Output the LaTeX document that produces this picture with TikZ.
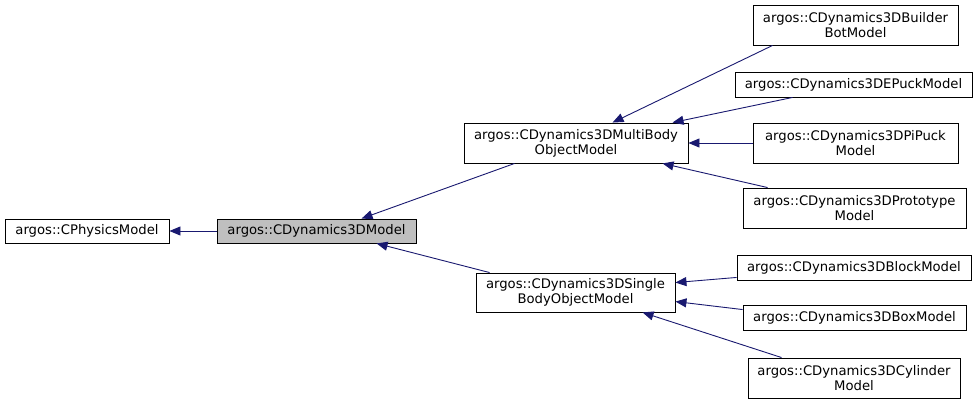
\documentclass[tikz,border=0pt]{standalone}
\usepackage{fontspec}
\setmainfont{DejaVu Sans}
\usetikzlibrary{arrows.meta,calc}
\definecolor{midnight}{HTML}{191970}
\definecolor{hlfill}{HTML}{BFBFBF}
\begin{document}
\begin{tikzpicture}[x=1pt,y=-1pt,
  cls/.style={draw=black,line width=0.9pt,fill=white,inner sep=0pt,align=center,
    font=\fontsize{13.2}{15}\selectfont},
  hlcls/.style={cls,fill=hlfill},
  inh/.style={draw=midnight,line width=0.9pt,
    -{Triangle[length=11pt,width=9pt,fill=midnight]}}]
\useasboundingbox (0,0) rectangle (979,403);
\fill[white] (0,0) rectangle (979,403);
\node[cls,minimum width=164pt,minimum height=24pt] (phys) at (87,231) {argos::CPhysicsModel};
\node[hlcls,minimum width=199pt,minimum height=24pt] (dyn) at (316.5,231) {argos::CDynamics3DModel};
\node[cls,minimum width=224pt,minimum height=40pt] (multi) at (576,143) {argos::CDynamics3DMultiBody\\ObjectModel};
\node[cls,minimum width=199pt,minimum height=39pt] (single) at (575.5,292.5) {argos::CDynamics3DSingle\\BodyObjectModel};
\node[cls,minimum width=205pt,minimum height=40pt] (bb) at (855.5,25) {argos::CDynamics3DBuilder\\BotModel};
\node[cls,minimum width=237pt,minimum height=25pt] (ep) at (853.5,84.5) {argos::CDynamics3DEPuckModel};
\node[cls,minimum width=205pt,minimum height=40pt] (pp) at (855.5,143) {argos::CDynamics3DPiPuck\\Model};
\node[cls,minimum width=223pt,minimum height=40pt] (pr) at (854.5,208) {argos::CDynamics3DPrototype\\Model};
\node[cls,minimum width=234pt,minimum height=25pt] (bl) at (854,267.5) {argos::CDynamics3DBlockModel};
\node[cls,minimum width=223pt,minimum height=25pt] (bx) at (854.5,317.5) {argos::CDynamics3DBoxModel};
\node[cls,minimum width=212pt,minimum height=40pt] (cy) at (854,378) {argos::CDynamics3DCylinder\\Model};

\draw[inh] (dyn.west) -- (phys.east);
\draw[inh] ($(multi.south west)+(51,0)$) -- ($(dyn.north west)+(145,0)$);
\draw[inh] ($(single.north west)+(14,0)$) -- ($(dyn.south west)+(160,0)$);
\draw[inh] ($(bb.south west)+(20,0)$) -- ($(multi.north west)+(149,0)$);
\draw[inh] ($(ep.south west)+(58,0)$) -- ($(multi.north west)+(209,0)$);
\draw[inh] (pp.west) -- (multi.east);
\draw[inh] ($(pr.north west)+(25,0)$) -- ($(multi.south west)+(199,0)$);
\draw[inh] ($(bl.south west)+(0,-3)$) -- ($(single.north east)+(0,10)$);
\draw[inh] ($(bx.north west)+(0,5)$) -- ($(single.north east)+(0,29)$);
\draw[inh] ($(cy.north west)+(34,0)$) -- ($(single.south west)+(167,0)$);
\end{tikzpicture}
\end{document}
